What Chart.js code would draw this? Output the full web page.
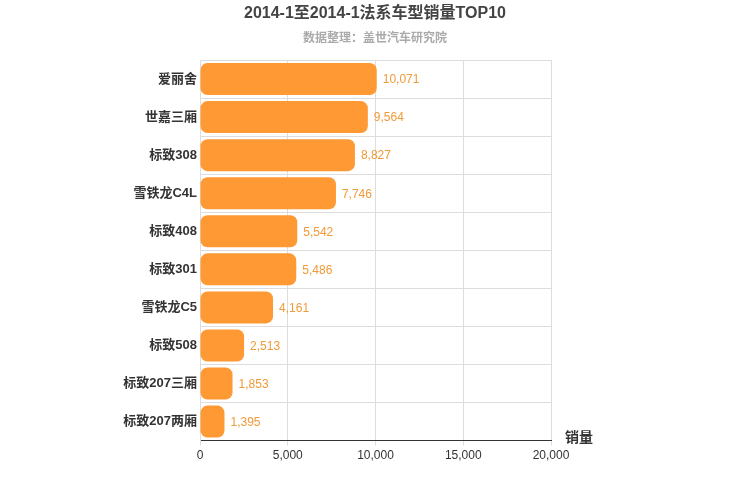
<!DOCTYPE html>
<html>
<head>
<meta charset="utf-8">
<script src="https://cdn.jsdelivr.net/npm/chart.js@4"></script>
<style>
body { margin: 0; background: #fff; }
</style>
</head>
<body>
<canvas id="chart" width="750" height="500"></canvas>
<script>
const models = ['爱丽舍', '世嘉三厢', '标致308', '雪铁龙C4L', '标致408', '标致301', '雪铁龙C5', '标致508', '标致207三厢', '标致207两厢'];
const sales = [10071, 9564, 8827, 7746, 5542, 5486, 4161, 2513, 1853, 1395];
const titleText = '2014-1至2014-1法系车型销量TOP10';
const subtitleText = '数据整理：盖世汽车研究院';

const barLabels = {
    id: 'barLabels',
    afterDatasetsDraw(chart) {
        const ctx = chart.ctx;
        ctx.save();
        ctx.font = '12px "Liberation Sans", Arial';
        ctx.fillStyle = '#f19a38';
        ctx.textBaseline = 'middle';
        chart.getDatasetMeta(0).data.forEach((bar, i) => {
            ctx.fillText(sales[i].toLocaleString('en-US'), bar.x + 6, bar.y + 1);
        });
        ctx.font = 'bold 14px "Liberation Sans", "Noto Sans CJK SC"';
        ctx.fillStyle = '#333';
        ctx.fillText('销量', 565, 438);
        // titles centred on the whole canvas
        ctx.textAlign = 'center';
        ctx.font = 'bold 16px "Liberation Sans", "Noto Sans CJK SC"';
        ctx.fillStyle = '#444';
        ctx.fillText(titleText, 375, 14);
        ctx.font = 'bold 12px "Liberation Sans", "Noto Sans CJK SC"';
        ctx.fillStyle = '#aaa';
        ctx.fillText(subtitleText, 375, 39);
        ctx.restore();
    }
};

new Chart(document.getElementById('chart').getContext('2d'), {
    type: 'bar',
    data: {
        labels: models,
        datasets: [{
            data: sales,
            backgroundColor: '#ff9933',
            borderRadius: 7,
            borderSkipped: false,
            barPercentage: 0.84,
            categoryPercentage: 1
        }]
    },
    plugins: [barLabels],
    options: {
        indexAxis: 'y',
        responsive: false,
        animation: false,
        devicePixelRatio: 1,
        layout: { padding: { left: 10, right: 199, top: 60, bottom: 34 } },
        scales: {
            x: {
                min: 0, max: 20000,
                ticks: { stepSize: 5000, color: '#333', font: { size: 12, family: '"Liberation Sans", Arial' } },
                grid: { color: '#dddddd', drawTicks: true, tickLength: 5 },
                border: { color: '#333' }
            },
            y: {
                ticks: { color: '#333', font: { size: 13, weight: 'bold', family: '"Liberation Sans", "Noto Sans CJK SC"' } },
                grid: { color: '#dddddd', drawTicks: false },
                border: { color: '#dddddd' },
                afterFit(s) { s.width = 190; }
            }
        },
        plugins: {
            legend: { display: false },
            tooltip: { enabled: false },
            title: { display: false }
        }
    }
});
</script>
</body>
</html>
